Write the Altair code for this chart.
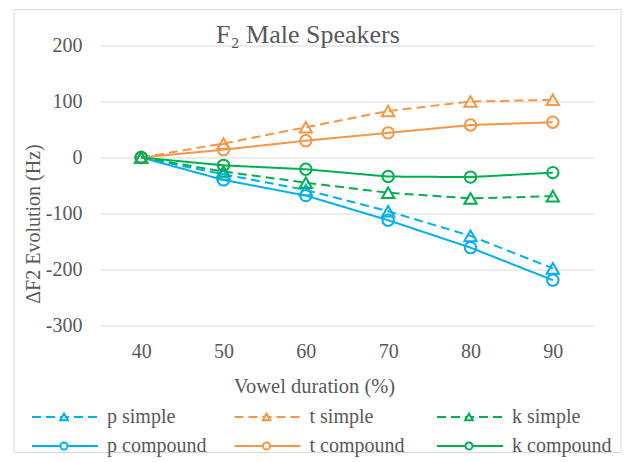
import altair as alt
import pandas as pd

durations = [40, 50, 60, 70, 80, 90]
p_simple = [0, -30, -58, -96, -140, -198]
t_simple = [0, 25, 54, 83, 100, 103]
k_simple = [0, -25, -45, -63, -73, -69]
p_compound = [0, -40, -68, -112, -161, -219]
t_compound = [0, 14, 30, 44, 58, 63]
k_compound = [0, -14, -21, -34, -35, -27]

series = [
    ("p simple", "p", "simple", p_simple),
    ("t simple", "t", "simple", t_simple),
    ("k simple", "k", "simple", k_simple),
    ("p compound", "p", "compound", p_compound),
    ("t compound", "t", "compound", t_compound),
    ("k compound", "k", "compound", k_compound),
]
chart_title = "F₂ Male Speakers"

cons_domain = ["p", "t", "k"]
cons_colors = ["#00B0F0", "#F79646", "#00B050"]
kind_domain = ["simple", "compound"]

rows = []
for order, (label, cons, kind, vals) in enumerate(series):
    for d, v in zip(durations, vals):
        rows.append({"series": label, "cons": cons, "kind": kind, "dur": d, "val": v, "order": order})
df = pd.DataFrame(rows)

FONT = "Liberation Serif"
GRAY = "#595959"

color = alt.Color("cons:N", scale=alt.Scale(domain=cons_domain, range=cons_colors), legend=None)
dash = alt.StrokeDash("kind:N", scale=alt.Scale(domain=kind_domain, range=[[9, 5], [1, 0]]), legend=None)

x = alt.X("dur:O", sort=durations, axis=alt.Axis(
    title="Vowel duration (%)", labelAngle=0, labelFontSize=20, labelColor=GRAY, labelFont=FONT,
    ticks=False, tickSize=0, domain=False, grid=False, labelPadding=16,
    titleFontSize=20.5, titleFont=FONT, titleColor=GRAY, titleFontWeight="normal",
    titleX=214, titleY=61, titleBaseline="middle"))
y = alt.Y("val:Q", scale=alt.Scale(domain=[-300, 200], nice=False), axis=alt.Axis(
    values=[-300, -200, -100, 0, 100, 200], title="ΔF2 Evolution (Hz)", labelExpr="'' + datum.value",
    grid=True, gridColor="#d9d9d9", gridWidth=1, domain=False, ticks=False, tickSize=0,
    labelPadding=18, labelFontSize=20, labelColor=GRAY, labelFont=FONT,
    titleFontSize=20, titleFont=FONT, titleColor=GRAY, titleFontWeight="normal",
    titleX=-67, titleY=178, titleBaseline="middle"))

base = alt.Chart(df)
lines = base.mark_line(strokeWidth=2).encode(x=x, y=y, color=color, strokeDash=dash, detail="series:N", order="dur:O")
tri = base.transform_filter(alt.datum.kind == "simple").mark_point(
    shape="triangle-up", filled=False, strokeWidth=2, size=150, opacity=1).encode(x=x, y=y, color=color)
circ = base.transform_filter(alt.datum.kind == "compound").mark_point(
    shape="circle", filled=False, strokeWidth=2, size=130, opacity=1).encode(x=x, y=y, color=color)

deco = alt.Chart(pd.DataFrame({"t": [chart_title]}))
border = deco.mark_rect(
    filled=False, stroke="#d9d9d9", strokeWidth=1, fillOpacity=0).encode(
    x=alt.value(-86), x2=alt.value(521), y=alt.value(-36), y2=alt.value(407))
title = deco.mark_text(font=FONT, fontSize=26, color=GRAY, align="center", baseline="alphabetic").encode(
    x=alt.value(208), y=alt.value(-3), text="t:N")

main = alt.layer(border, lines, tri, circ, title).properties(width=494, height=280)

# legend
step = 202.5
leg_rows = []
for label, cons, kind, vals in series:
    col = cons_domain.index(cons)
    leg_rows.append({"series": label, "cons": cons, "kind": kind, "row": kind_domain.index(kind),
                     "x0": col, "x1": col + 66 / step, "xm": col + 32 / step, "xt": col + 75 / step})
ldf = pd.DataFrame(leg_rows)
d0 = 68 / step
lw = 420
lx = alt.Scale(domain=[d0, d0 + lw / step], nice=False, zero=False)
ly = alt.Y("row:O", axis=None, scale=alt.Scale(domain=[0, 1]))
lbase = alt.Chart(ldf)
lrule = lbase.mark_rule(strokeWidth=2).encode(
    x=alt.X("x0:Q", scale=lx, axis=None), x2="x1:Q", y=ly, color=color, strokeDash=dash)
ltri = lbase.transform_filter(alt.datum.kind == "simple").mark_point(
    shape="triangle-up", filled=False, fill="white", strokeWidth=2, size=60, opacity=1).encode(
    x=alt.X("xm:Q", scale=lx, axis=None), y=ly, color=color)
lcirc = lbase.transform_filter(alt.datum.kind == "compound").mark_point(
    shape="circle", filled=False, fill="white", strokeWidth=2, size=50, opacity=1).encode(
    x=alt.X("xm:Q", scale=lx, axis=None), y=ly, color=color)
ltext = lbase.mark_text(align="left", baseline="middle", font=FONT, fontSize=20, color=GRAY).encode(
    x=alt.X("xt:Q", scale=lx, axis=None), y=ly, text="series:N")
legend = alt.layer(lrule, ltri, lcirc, ltext).properties(width=lw, height=58)

chart = alt.vconcat(main, legend, spacing=77, bounds="flush").resolve_scale(
    x="independent", y="independent").properties(
    padding={"left": 5, "top": 0.5, "right": 0, "bottom": 0}).configure_view(strokeWidth=0)

chart.save("out.html", embed_options={"renderer": "svg", "actions": False})
